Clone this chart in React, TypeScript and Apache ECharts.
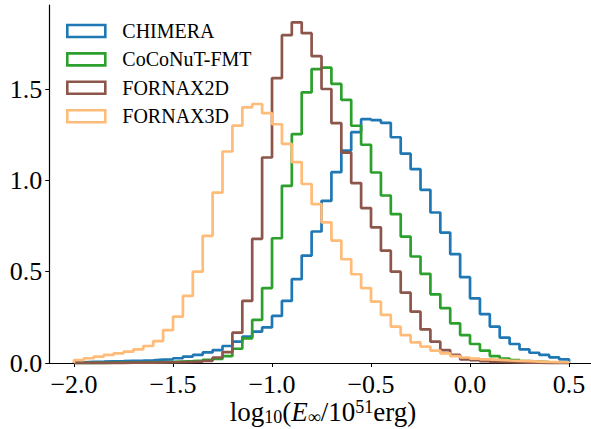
import React, { useEffect, useRef } from 'react';
import * as echarts from 'echarts';

// Histogram bin edges (width 0.05)
const binEdges = [
  -2.0, -1.95, -1.9, -1.85, -1.8, -1.75, -1.7, -1.65, -1.6, -1.55,
  -1.5, -1.45, -1.4, -1.35, -1.3, -1.25, -1.2, -1.15, -1.1, -1.05,
  -1.0, -0.95, -0.9, -0.85, -0.8, -0.75, -0.7, -0.65, -0.6, -0.55,
  -0.5, -0.45, -0.4, -0.35, -0.3, -0.25, -0.2, -0.15, -0.1, -0.05,
  0.0, 0.05, 0.1, 0.15, 0.2, 0.25, 0.3, 0.35, 0.4, 0.45, 0.5,
];

const seriesNames = ['CHIMERA', 'CoCoNuT-FMT', 'FORNAX2D', 'FORNAX3D'];
const seriesColors = ['#1f77b4', '#2ca02c', '#8c564b', '#ffbb78'];

const chimera = [
  0.004, 0.006, 0.007, 0.009, 0.010, 0.012, 0.013, 0.015, 0.018, 0.020,
  0.026, 0.035, 0.044, 0.058, 0.071, 0.093, 0.117, 0.144, 0.172, 0.195,
  0.258, 0.340, 0.459, 0.588, 0.720, 0.888, 1.045, 1.163, 1.264, 1.335,
  1.330, 1.315, 1.236, 1.146, 1.061, 0.948, 0.824, 0.714, 0.596, 0.470,
  0.354, 0.268, 0.199, 0.139, 0.104, 0.075, 0.056, 0.044, 0.031, 0.020,
];

const coconut = [
  0.001, 0.001, 0.001, 0.002, 0.002, 0.002, 0.003, 0.004, 0.005, 0.006,
  0.008, 0.010, 0.013, 0.017, 0.022, 0.038, 0.078, 0.135, 0.236, 0.410,
  0.683, 0.970, 1.253, 1.482, 1.609, 1.617, 1.528, 1.441, 1.299, 1.195,
  1.043, 0.917, 0.815, 0.692, 0.583, 0.488, 0.376, 0.300, 0.217, 0.153,
  0.104, 0.068, 0.038, 0.024, 0.016, 0.011, 0.008, 0.005, 0.004, 0.003,
];

const fornax2d = [
  0.001, 0.001, 0.001, 0.001, 0.001, 0.002, 0.002, 0.002, 0.003, 0.004,
  0.005, 0.006, 0.008, 0.012, 0.030, 0.060, 0.166, 0.340, 0.680, 1.125,
  1.560, 1.795, 1.865, 1.806, 1.680, 1.500, 1.313, 1.152, 0.985, 0.848,
  0.743, 0.615, 0.500, 0.385, 0.281, 0.184, 0.117, 0.071, 0.044, 0.020,
  0.015, 0.010, 0.006, 0.004, 0.003, 0.002, 0.002, 0.001, 0.001, 0.001,
];

const fornax3d = [
  0.016, 0.026, 0.035, 0.044, 0.053, 0.062, 0.075, 0.093, 0.120, 0.180,
  0.254, 0.367, 0.500, 0.696, 0.933, 1.158, 1.300, 1.400, 1.418, 1.368,
  1.307, 1.200, 1.100, 0.980, 0.870, 0.770, 0.670, 0.568, 0.486, 0.410,
  0.336, 0.263, 0.199, 0.153, 0.113, 0.090, 0.068, 0.053, 0.038, 0.030,
  0.024, 0.020, 0.017, 0.014, 0.012, 0.010, 0.008, 0.006, 0.005, 0.004,
];

const xTicks = [-2.0, -1.5, -1.0, -0.5, 0.0, 0.5];
const yTicks = [0.0, 0.5, 1.0, 1.5];

const FONT = 'Liberation Serif';

function stepData(vals: number[]) {
  const pts: number[][] = [[binEdges[0], 0]];
  vals.forEach((v, i) => pts.push([binEdges[i], v]));
  pts.push([binEdges[vals.length], vals[vals.length - 1]]);
  pts.push([binEdges[vals.length], 0]);
  return pts;
}

function fmt(v: number) {
  return (v < 0 ? '\u2212' : '') + Math.abs(v).toFixed(1);
}

export default function App() {
  const ref = useRef<HTMLDivElement>(null);
  useEffect(() => {
    if (!ref.current) return;
    const chart = echarts.init(ref.current, undefined, { renderer: 'svg' });
    const allVals = [chimera, coconut, fornax2d, fornax3d];
    chart.setOption({
      animation: false,
      backgroundColor: '#ffffff',
      grid: { left: 49.25, right: 0, top: 5, bottom: 66, containLabel: false },
      xAxis: {
        type: 'value',
        min: -2.125,
        max: 0.611,
        axisLine: { show: true, onZero: false, lineStyle: { color: '#000', width: 1.2 } },
        axisTick: { show: true, length: 4, customValues: xTicks, lineStyle: { color: '#000', width: 1 } },
        axisLabel: {
          customValues: xTicks,
          formatter: (v: number) => fmt(v),
          fontFamily: FONT,
          fontSize: 26,
          lineHeight: 26,
          color: '#000',
          margin: 8,
        },
        splitLine: { show: false },
      },
      yAxis: {
        type: 'value',
        min: 0,
        max: 1.96,
        axisLine: { show: true, onZero: false, lineStyle: { color: '#000', width: 1.2 } },
        axisTick: { show: true, length: 4, customValues: yTicks, lineStyle: { color: '#000', width: 1 } },
        axisLabel: {
          customValues: yTicks,
          formatter: (v: number) => v.toFixed(1),
          fontFamily: FONT,
          fontSize: 26,
          lineHeight: 26,
          color: '#000',
          margin: 7,
        },
        splitLine: { show: false },
      },
      legend: {
        orient: 'vertical',
        left: 66,
        top: 21,
        padding: 0,
        itemWidth: 38,
        itemHeight: 12,
        itemGap: 8.4,
        textStyle: { fontFamily: FONT, fontSize: 20, color: '#000', lineHeight: 12, padding: [0, 0, 0, 12] },
        data: seriesNames.map((n, i) => ({
          name: n,
          icon: 'rect',
          itemStyle: { color: 'rgba(0,0,0,0)', borderColor: seriesColors[i], borderWidth: 2.6 },
        })),
      },
      graphic: [
        {
          type: 'text',
          x: 323,
          y: 412,
          style: {
            text: '{n|log}{sub|10}{n|(}{i|E}{sub|\u221e}{n|/10}{sup|51}{n|erg)}',
            align: 'center',
            verticalAlign: 'middle',
            fill: '#000',
            rich: {
              n: { fontFamily: FONT, fontSize: 27, lineHeight: 28, fill: '#000' },
              i: { fontFamily: FONT, fontSize: 27, lineHeight: 28, fontStyle: 'italic', fill: '#000' },
              sub: { fontFamily: FONT, fontSize: 18, lineHeight: 14, verticalAlign: 'bottom', fill: '#000' },
              sup: { fontFamily: FONT, fontSize: 18, lineHeight: 14, verticalAlign: 'top', fill: '#000' },
            },
          },
        },
      ],
      series: seriesNames.map((n, i) => ({
        name: n,
        type: 'line',
        step: 'end',
        data: stepData(allVals[i]),
        symbol: 'none',
        showSymbol: false,
        clip: false,
        lineStyle: { color: seriesColors[i], width: 2.7 },
        itemStyle: { color: seriesColors[i] },
        z: 2 + i,
      })),
    });
    return () => chart.dispose();
  }, []);
  return <div ref={ref} style={{ width: 591, height: 429, position: 'absolute', left: 0, top: 0 }} />;
}
